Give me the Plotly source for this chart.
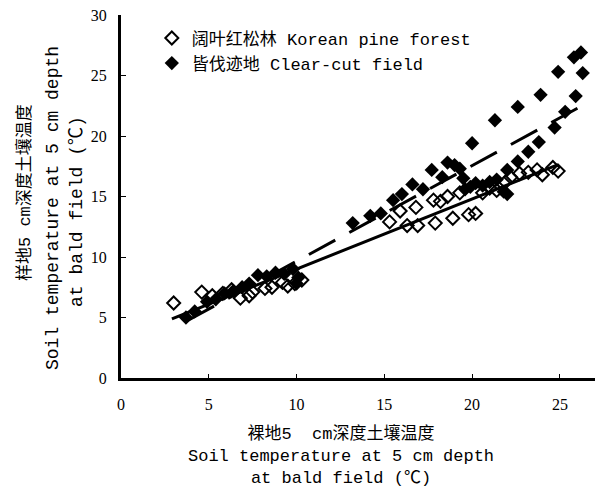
import plotly.graph_objects as go

# Korean pine forest (open diamonds)
forest_x = [3.0, 4.6, 5.2, 5.8, 6.3, 6.8, 7.3, 7.5, 8.2, 8.6, 9.2, 9.5, 9.9, 10.3,
            15.3, 15.9, 16.3, 16.8, 16.9, 17.8, 17.9, 18.2, 18.6, 18.9, 19.3, 19.8,
            20.2, 20.6, 21.0, 21.4, 21.9, 22.2, 22.7, 23.2, 23.7, 24.0, 24.6, 24.9]
forest_y = [6.2, 7.1, 6.8, 7.0, 7.3, 6.6, 6.8, 7.1, 7.4, 7.5, 7.9, 7.6, 7.8, 8.1,
            12.9, 13.8, 12.6, 14.1, 12.6, 14.7, 12.8, 14.6, 15.0, 13.2, 15.3, 13.5,
            13.6, 15.3, 15.7, 15.5, 16.2, 16.6, 16.9, 17.0, 17.2, 16.8, 17.4, 17.1]

# Clear-cut field (filled diamonds)
cut_x = [3.7, 4.2, 4.9, 5.4, 5.9, 6.4, 6.9, 7.3, 7.8, 8.3, 8.8, 9.3, 9.8, 10.0, 10.1,
         13.2, 14.2, 14.8, 15.5, 16.0, 16.6, 17.2, 17.7, 18.3, 18.6, 19.0, 19.3, 19.5,
         19.6, 19.9, 20.2, 20.6, 21.0, 21.4, 21.8, 22.0, 20.0, 21.3, 22.6, 23.9, 24.9,
         25.8, 26.2, 26.3, 25.9, 25.3, 24.7, 23.8, 23.2, 22.6, 22.0]
cut_y = [5.0, 5.5, 6.3, 6.5, 7.0, 7.2, 7.5, 7.8, 8.5, 8.4, 8.7, 8.6, 9.0, 7.8, 8.3,
         12.8, 13.4, 13.6, 14.7, 15.2, 16.0, 15.6, 17.2, 16.6, 17.8, 17.6, 17.3, 16.5,
         15.6, 15.8, 16.1, 15.9, 16.2, 16.4, 15.4, 15.2, 19.4, 21.3, 22.4, 23.4, 25.3,
         26.5, 26.9, 25.2, 23.3, 22.0, 20.7, 19.5, 18.7, 17.9, 17.2]

# Linear trend lines: [slope, intercept], [x start, x end]
forest_fit = [0.58, 3.2]
forest_fit_range = [2.9, 24.9]
cut_fit = [0.79, 1.75]
cut_fit_range = [3.8, 26.0]

x_ticks = [0, 5, 10, 15, 20, 25]
y_ticks = [0, 5, 10, 15, 20, 25, 30]

x_title = ["裸地5&nbsp;&nbsp;cm深度土壤温度", "Soil temperature at 5 cm depth", "at bald field (℃)"]
y_title = ["样地5 cm深度土壤温度", "Soil temperature at 5 cm depth", "at bald field (℃)"]

TXT = "Liberation Mono, Noto Sans CJK SC, monospace"
NUM = "Liberation Serif, Times New Roman, serif"

W, H = 602, 491
L, R, T, B = 121, 7, 15, 113
PW, PH = W - L - R, H - T - B


def px(x):
    return (x - L) / PW


def py(y):
    return (H - B - y) / PH


fig = go.Figure()

fig.add_trace(go.Scatter(
    x=forest_x, y=forest_y, mode="markers", name="阔叶红松林 Korean pine forest",
    marker=dict(symbol="diamond-open", size=10, color="black", line=dict(width=2, color="black"))))
fig.add_trace(go.Scatter(
    x=cut_x, y=cut_y, mode="markers", name="皆伐迹地 Clear-cut field",
    marker=dict(symbol="diamond", size=11, color="black")))

fx = forest_fit_range
fig.add_trace(go.Scatter(
    x=fx, y=[forest_fit[0] * v + forest_fit[1] for v in fx], mode="lines",
    line=dict(color="black", width=3), showlegend=False))
cx = cut_fit_range
fig.add_trace(go.Scatter(
    x=cx, y=[cut_fit[0] * v + cut_fit[1] for v in cx], mode="lines",
    line=dict(color="black", width=3, dash="30px,16px"), showlegend=False))

annotations = [
    dict(text="<br>".join(x_title), xref="paper", yref="paper", x=px(341), y=py(455),
         xanchor="center", yanchor="middle", showarrow=False,
         font=dict(family=TXT, size=17, color="black")),
    dict(text=y_title[0], xref="paper", yref="paper", x=px(25), y=py(193),
         xanchor="center", yanchor="middle", textangle=-90, showarrow=False,
         font=dict(family=TXT, size=17, color="black")),
    dict(text=y_title[1], xref="paper", yref="paper", x=px(53), y=py(208),
         xanchor="center", yanchor="middle", textangle=-90, showarrow=False,
         font=dict(family=TXT, size=18, color="black")),
    dict(text=y_title[2], xref="paper", yref="paper", x=px(77), y=py(212),
         xanchor="center", yanchor="middle", textangle=-90, showarrow=False,
         font=dict(family=TXT, size=18, color="black")),
]

fig.update_layout(
    width=W, height=H,
    margin=dict(l=L, r=R, t=T, b=B),
    paper_bgcolor="white", plot_bgcolor="white",
    showlegend=True,
    legend=dict(x=0.065, y=0.985, xanchor="left", yanchor="top",
                font=dict(family=TXT, size=17, color="black"),
                bgcolor="rgba(0,0,0,0)", itemwidth=30, tracegroupgap=0),
    xaxis=dict(range=[0, 27], tickvals=x_ticks, showline=True, linewidth=3, linecolor="black",
               ticks="inside", ticklen=4, tickcolor="black", showgrid=False, zeroline=False,
               tickfont=dict(family=NUM, size=16, color="black"), ticklabelstandoff=10),
    yaxis=dict(range=[0, 30], tickvals=y_ticks, showline=True, linewidth=3, linecolor="black",
               ticks="inside", ticklen=5, tickcolor="black", showgrid=False, zeroline=False,
               tickfont=dict(family=NUM, size=16, color="black"), ticklabelstandoff=8),
    annotations=annotations,
)

fig.write_html("out.html")
